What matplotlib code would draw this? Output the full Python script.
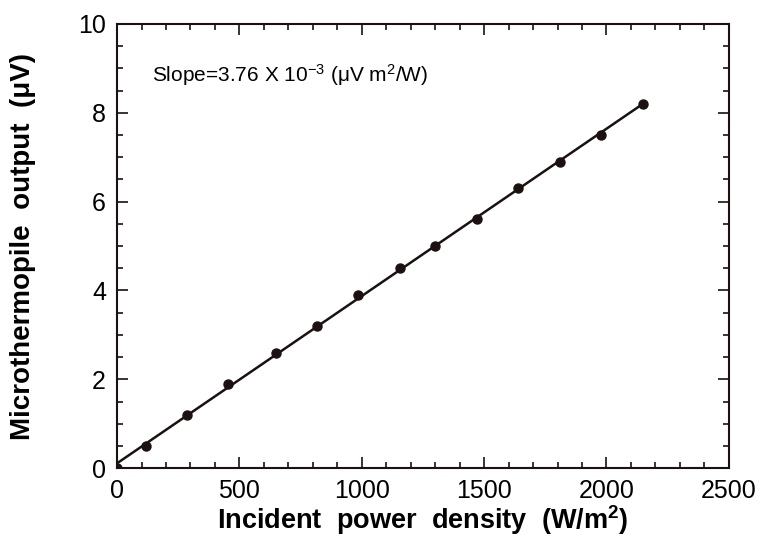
import numpy as np
import matplotlib.pyplot as plt
from matplotlib.ticker import MultipleLocator

plt.rcParams['font.family'] = ['Liberation Sans', 'DejaVu Sans']
plt.rcParams['mathtext.fontset'] = 'custom'
plt.rcParams['mathtext.rm'] = 'Liberation Sans'
plt.rcParams['mathtext.it'] = 'Liberation Sans:italic'
plt.rcParams['mathtext.bf'] = 'Liberation Sans:bold'

# data
power = [0, 118, 286, 453, 650, 817, 985, 1156, 1299, 1471, 1638, 1810, 1977, 2149]
output = [0.0, 0.5, 1.2, 1.9, 2.6, 3.2, 3.9, 4.5, 5.0, 5.6, 6.3, 6.9, 7.5, 8.2]

# fitted line
k, b = np.polyfit(power, output, 1)
xs = np.array([power[0], power[-1]])

fig = plt.figure(figsize=(7.6, 5.45), dpi=100)
ax = fig.add_axes([0.154, 0.141, 0.805, 0.815])

ax.plot(xs, k * xs + b, color='#1a1110', lw=1.8)
ax.plot(power, output, 'o', color='#1a1110', ms=6.5)

ax.set_xlim(0, 2500)
ax.set_ylim(0, 10)
ax.xaxis.set_major_locator(MultipleLocator(500))
ax.xaxis.set_minor_locator(MultipleLocator(100))
ax.yaxis.set_major_locator(MultipleLocator(2))
ax.yaxis.set_minor_locator(MultipleLocator(0.5))
ax.tick_params(which='both', direction='in', top=True, right=True, width=1.2, color='#1a1110')
ax.tick_params(which='major', length=8, labelsize=18, pad=8)
ax.tick_params(which='minor', length=4)
for s in ax.spines.values():
    s.set_linewidth(1.5)
    s.set_color('#1a1110')

ax.set_xlabel('Incident  power  density  (W/m$^\\mathbf{2}$)', fontsize=19.5, fontweight='bold', labelpad=0)
ax.set_ylabel('Microthermopile  output  (μV)', fontsize=20, fontweight='bold', labelpad=30)

ax.text(143, 8.85, 'Slope=3.76 X 10$^{-3}$ (μV m$^2$/W)', fontsize=15, va='center', ha='left')

fig.savefig('out.png', dpi=100)
